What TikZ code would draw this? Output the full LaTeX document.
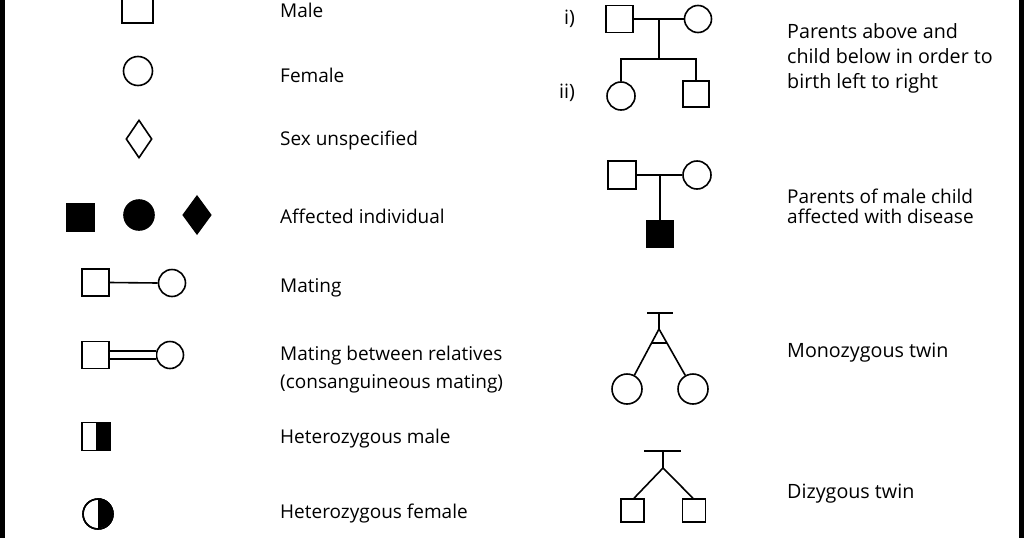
\documentclass[tikz,border=0pt]{standalone}
\usepackage{fontspec}
\setmainfont{Open Sans}
\usetikzlibrary{shapes.geometric,calc}
\begin{document}
\begin{tikzpicture}[x=1pt,y=-1pt,
  lw/.style={line width=1.6pt},
  sq/.style={draw,lw,rectangle,inner sep=0pt,minimum size=#1},
  sq/.default=27pt,
  ci/.style={draw,lw,circle,inner sep=0pt,minimum size=#1},
  ci/.default=28pt,
  dm/.style={draw,lw,diamond,inner sep=0pt,minimum width=26pt,minimum height=38pt},
  ln/.style={lw,line cap=butt},
  lt/.style={anchor=base west,inner sep=0pt,font=\fontsize{19}{22}\selectfont},
  rt/.style={anchor=base west,inner sep=0pt,font=\fontsize{19.7}{24}\selectfont},
  rts/.style={anchor=base west,inner sep=0pt,font=\fontsize{19}{21}\selectfont}]
\useasboundingbox (0,0) rectangle (1024,538);
\fill[white] (0,0) rectangle (1024,538);
\fill[black] (0,0) rectangle (5,538);
\fill[black] (1019,0) rectangle (1024,538);

% ---- left column symbols
\node[sq=31pt] (male) at (137.5,7.5) {};
\node[ci=29pt] (female) at (138,71) {};
\node[dm] (unsp) at (139,139) {};
\node[sq,fill=black] (amale) at (80.5,217.5) {};
\node[ci=30pt,fill=black] (afemale) at (139,215) {};
\node[dm,fill=black,minimum width=28pt] (aunsp) at (197,215) {};

\node[sq] (mm) at (95.5,282.5) {};
\node[ci=27pt] (mf) at (172,283) {};
\draw[ln] (mm.east) -- (mf.west);

\node[sq] (cm) at (95.5,355) {};
\node[ci=27pt] (cf) at (170,355) {};
\draw[lw,double,double distance=6.2pt] (cm.east) -- (cf.west);

\node[sq=28pt] (hm) at (96,436.5) {};
\fill (hm.north) rectangle (hm.south east);
\node[sq=28pt] at (hm) {};
\node[ci=30pt] (hf) at (98,514) {};
\fill (hf.north) arc[start angle=90,end angle=-90,radius=15pt] -- cycle;
\node[ci=30pt] at (hf) {};

% ---- left column labels
\node[lt] (t1) at (280,17) {Male};
\node[lt] (t2) at (280,82) {Female};
\node[lt] (t3) at (280,145) {Sex unspecified};
\node[lt] (t4) at (280,223) {Affected individual};
\node[lt] (t5) at (280,292) {Mating};
\node[lt] (t6) at (280,360) {Mating between relatives};
\node[lt] (t7) at (280,388) {(consanguineous mating)};
\node[lt] (t8) at (280,443) {Heterozygous male};
\node[lt] (t9) at (280,518) {Heterozygous female};

% ---- pedigree i/ii
\node[rt] (ri) at (564,24) {i)};
\node[rt] (rii) at (559,98) {ii)};
\node[sq] (p1) at (619.5,19) {};
\node[ci=27pt] (p2) at (698,19) {};
\draw[ln] (p1.east) -- (p2.west);
\coordinate (pm) at (659,19);
\coordinate (pj) at (659,59);
\draw[ln] (pm) -- (pj);
\node[ci] (c1) at (621,96) {};
\node[sq=26pt] (c2) at (696,94) {};
\draw[ln] (c1.north) |- (pj) -| (c2.north);

% ---- affected child
\node[sq=28pt] (q1) at (622,175) {};
\node[ci] (q2) at (697,175) {};
\draw[ln] (q1.east) -- (q2.west);
\coordinate (qm) at (660,175);
\node[sq,fill=black] (q3) at (660,234) {};
\draw[ln] (qm) -- (q3.north);

% ---- monozygous twin
\coordinate (mzl) at (647,313);
\coordinate (mzr) at (673,313);
\coordinate (mzt) at (659,313);
\coordinate (mza) at (659,329);
\draw[ln] (mzl) -- (mzr);
\draw[ln] (mzt) -- (mza);
\node[ci=30pt] (mz1) at (627,389) {};
\node[ci=30pt] (mz2) at (693,389) {};
\draw[lw,line join=miter] (mz1) -- (mza) -- (mz2);
\draw[ln] ($(mza)!0.233!(mz1.center)$) -- ($(mza)!0.233!(mz2.center)$);

% ---- dizygous twin
\coordinate (dzl) at (644,451);
\coordinate (dzr) at (681,451);
\coordinate (dzt) at (663,451);
\coordinate (dza) at (663,468);
\draw[ln] (dzl) -- (dzr);
\draw[ln] (dzt) -- (dza);
\node[sq=23pt] (dz1) at (632.5,510.5) {};
\node[sq=23pt] (dz2) at (694,510.5) {};
\draw[lw,line join=miter] ([xshift=1.5pt]dz1.north) -- (dza) -- ([xshift=-1pt]dz2.north);

% ---- right column labels
\node[rt] (r1) at (787,38) {Parents above and};
\node[rt] (r2) at (787,63) {child below in order to};
\node[rt] (r3) at (787,88) {birth left to right};
\node[rts] (r4) at (787,203) {Parents of male child};
\node[rts] (r5) at (787,223) {affected with disease};
\node[rt] (r6) at (787,357) {Monozygous twin};
\node[rt] (r7) at (787,498) {Dizygous twin};
\end{tikzpicture}
\end{document}
